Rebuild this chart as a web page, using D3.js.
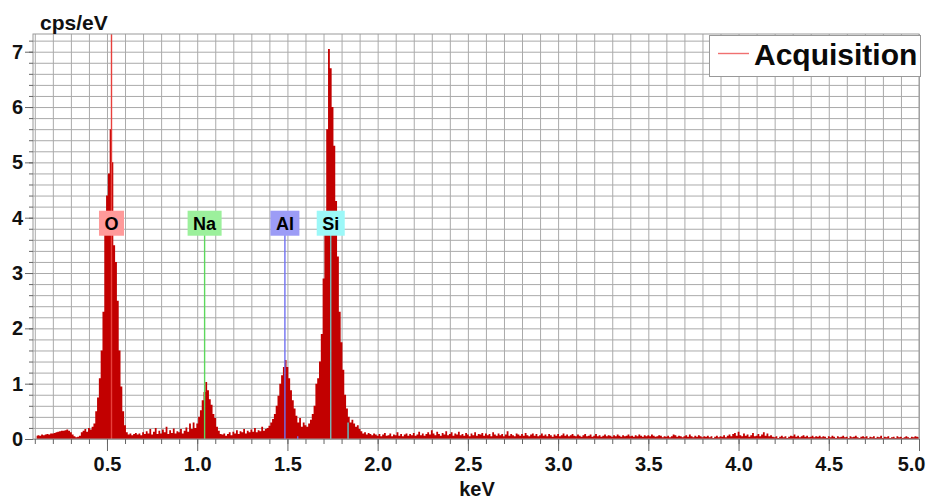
<!DOCTYPE html>
<html>
<head>
<meta charset="utf-8">
<script src="https://cdn.jsdelivr.net/npm/d3@7"></script>
<style>
  body { margin: 0; background: #fff; }
  svg { display: block; font-family: "Liberation Sans", Arial, sans-serif; font-weight: bold; }
</style>
</head>
<body>
<svg id="chart" width="926" height="500"></svg>
<script>
// EDS spectrum, one value per 10 eV channel
const channelStart = 0.11
const channelWidth = 0.01
const cpsPerEV = [
  /* 0.11 */ 0.06, 0.07, 0.06, 0.08, 0.07, 0.08, 0.09, 0.08, 0.10,
  /* 0.20 */ 0.10, 0.11, 0.12, 0.13, 0.14, 0.15, 0.15, 0.16, 0.17, 0.15,
  /* 0.30 */ 0.12, 0.08, 0.05, 0.03, 0.04, 0.06, 0.12, 0.15, 0.18, 0.13,
  /* 0.40 */ 0.20, 0.17, 0.22, 0.28, 0.50, 0.75, 1.10, 1.60, 2.30, 3.70,
  /* 0.50 */ 4.40, 4.80, 5.60, 5.00, 3.50, 3.20, 2.50, 1.60, 0.95, 0.50,
  /* 0.60 */ 0.25, 0.12, 0.08, 0.10, 0.07, 0.09, 0.11, 0.08, 0.10, 0.07,
  /* 0.70 */ 0.12, 0.09, 0.14, 0.10, 0.18, 0.08, 0.13, 0.20, 0.09, 0.15,
  /* 0.80 */ 0.10, 0.17, 0.12, 0.22, 0.09, 0.16, 0.11, 0.19, 0.10, 0.14,
  /* 0.90 */ 0.12, 0.18, 0.10, 0.15, 0.21, 0.13, 0.28, 0.18, 0.30, 0.20,
  /* 1.00 */ 0.28, 0.40, 0.52, 0.70, 0.85, 1.03, 0.88, 0.72, 0.62, 0.45,
  /* 1.10 */ 0.38, 0.22, 0.15, 0.09, 0.08, 0.10, 0.06, 0.09, 0.12, 0.07,
  /* 1.20 */ 0.13, 0.10, 0.16, 0.09, 0.14, 0.12, 0.18, 0.10, 0.15, 0.12,
  /* 1.30 */ 0.17, 0.13, 0.20, 0.12, 0.16, 0.14, 0.22, 0.15, 0.18, 0.20,
  /* 1.40 */ 0.24, 0.30, 0.36, 0.45, 0.60, 0.78, 1.00, 1.15, 1.30, 1.43,
  /* 1.50 */ 1.30, 1.10, 0.88, 0.70, 0.55, 0.42, 0.30, 0.38, 0.22, 0.30,
  /* 1.60 */ 0.25, 0.22, 0.28, 0.35, 0.45, 0.60, 1.00, 1.10, 1.40, 1.90,
  /* 1.70 */ 2.90, 4.10, 5.60, 7.05, 6.70, 6.00, 5.30, 4.30, 3.30, 2.30,
  /* 1.80 */ 1.75, 1.25, 0.80, 0.55, 0.40, 0.30, 0.35, 0.28, 0.22, 0.25,
  /* 1.90 */ 0.18, 0.14, 0.10, 0.12, 0.08, 0.11, 0.09, 0.07, 0.10, 0.08,
  /* 2.00 */ 0.06, 0.09, 0.05, 0.08, 0.11, 0.06, 0.07, 0.10, 0.05, 0.08,
  /* 2.10 */ 0.07, 0.12, 0.06, 0.09, 0.05, 0.08, 0.10, 0.06, 0.09, 0.07,
  /* 2.20 */ 0.11, 0.06, 0.08, 0.13, 0.07, 0.10, 0.06, 0.09, 0.12, 0.08,
  /* 2.30 */ 0.16, 0.10, 0.07, 0.13, 0.09, 0.06, 0.11, 0.08, 0.14, 0.07,
  /* 2.40 */ 0.09, 0.12, 0.06, 0.10, 0.08, 0.13, 0.07, 0.09, 0.06, 0.11,
  /* 2.50 */ 0.08, 0.05, 0.10, 0.07, 0.12, 0.06, 0.09, 0.08, 0.11, 0.06,
  /* 2.60 */ 0.10, 0.07, 0.09, 0.05, 0.12, 0.08, 0.06, 0.10, 0.07, 0.09,
  /* 2.70 */ 0.05, 0.08, 0.14, 0.06, 0.09, 0.07, 0.05, 0.10, 0.08, 0.06,
  /* 2.80 */ 0.09, 0.06, 0.11, 0.07, 0.05, 0.08, 0.10, 0.06, 0.09, 0.05,
  /* 2.90 */ 0.07, 0.10, 0.06, 0.08, 0.05, 0.09, 0.07, 0.04, 0.08, 0.06,
  /* 3.00 */ 0.09, 0.05, 0.07, 0.10, 0.06, 0.08, 0.05, 0.07, 0.09, 0.06,
  /* 3.10 */ 0.05, 0.08, 0.06, 0.04, 0.07, 0.09, 0.05, 0.06, 0.08, 0.04,
  /* 3.20 */ 0.06, 0.09, 0.05, 0.07, 0.04, 0.06, 0.08, 0.05, 0.07, 0.06,
  /* 3.30 */ 0.04, 0.07, 0.05, 0.08, 0.06, 0.04, 0.07, 0.05, 0.06, 0.08,
  /* 3.40 */ 0.05, 0.06, 0.04, 0.07, 0.05, 0.08, 0.06, 0.04, 0.07, 0.05,
  /* 3.50 */ 0.07, 0.05, 0.08, 0.06, 0.04, 0.05, 0.07, 0.06, 0.03, 0.05,
  /* 3.60 */ 0.04, 0.06, 0.03, 0.05, 0.08, 0.07, 0.04, 0.06, 0.05, 0.03,
  /* 3.70 */ 0.05, 0.07, 0.04, 0.08, 0.05, 0.03, 0.06, 0.04, 0.07, 0.05,
  /* 3.80 */ 0.03, 0.05, 0.04, 0.06, 0.03, 0.05, 0.02, 0.04, 0.06, 0.03,
  /* 3.90 */ 0.05, 0.04, 0.07, 0.03, 0.06, 0.08, 0.05, 0.09, 0.11, 0.06,
  /* 4.00 */ 0.13, 0.07, 0.05, 0.10, 0.06, 0.08, 0.04, 0.07, 0.11, 0.05,
  /* 4.10 */ 0.06, 0.09, 0.05, 0.08, 0.12, 0.06, 0.10, 0.05, 0.07, 0.04,
  /* 4.20 */ 0.03, 0.05, 0.02, 0.04, 0.06, 0.03, 0.05, 0.02, 0.04, 0.06,
  /* 4.30 */ 0.05, 0.08, 0.04, 0.06, 0.03, 0.05, 0.07, 0.04, 0.06, 0.03,
  /* 4.40 */ 0.04, 0.06, 0.03, 0.05, 0.04, 0.06, 0.03, 0.05, 0.04, 0.02,
  /* 4.50 */ 0.05, 0.03, 0.06, 0.04, 0.02, 0.05, 0.03, 0.04, 0.06, 0.03,
  /* 4.60 */ 0.04, 0.02, 0.05, 0.03, 0.04, 0.06, 0.03, 0.02, 0.04, 0.05,
  /* 4.70 */ 0.03, 0.05, 0.02, 0.04, 0.03, 0.05, 0.02, 0.04, 0.03, 0.06,
  /* 4.80 */ 0.02, 0.04, 0.03, 0.05, 0.02, 0.03, 0.04, 0.02, 0.05, 0.03,
  /* 4.90 */ 0.04, 0.02, 0.03, 0.05, 0.03, 0.02, 0.04, 0.03, 0.05, 0.04,
  /* 5.00 */ 0.03
]

// element markers (K-alpha lines)
const elements = ['O', 'Na', 'Al', 'Si']
const elementKeV = [0.525, 1.041, 1.486, 1.740]
const boxColors = ['#ff9a9a', '#9cf09c', '#9c9cf6', '#9cf8f8']
const lineColors = ['#e8403c', '#5cd85c', '#7070f0', '#7ab8b8']
const labelLevel = 3.9

// small K-beta ticks near the base
const betaKeV = [1.557, 1.836]
const betaHeight = [0.05, 0.3]
const betaColors = ['#6a6af0', '#5cc8c8']

const xTickLabels = ['0.5', '1.0', '1.5', '2.0', '2.5', '3.0', '3.5', '4.0', '4.5', '5.0']
const yTickLabels = ['0', '1', '2', '3', '4', '5', '6', '7']
const seriesName = 'Acquisition'

const svg = d3.select('#chart')
const plotLeft = 33, plotRight = 919, plotTop = 34, plotBottom = 439

const x = d3.scaleLinear().domain([0.09, 5.0]).range([plotLeft, plotRight])
const y = d3.scaleLinear().domain([0, 7.32]).range([plotBottom, plotTop])

const xMinor = d3.range(1, 51).map((i) => i / 10)
const yMinor = d3.range(0, 37).map((i) => i / 5)

// grid
const gridX = svg.append('g')
  .attr('transform', `translate(0,${plotBottom})`)
  .call(d3.axisBottom(x).tickValues(xMinor).tickSize(-(plotBottom - plotTop)).tickFormat(''))
gridX.select('.domain').remove()
gridX.selectAll('line').attr('stroke', '#aaaaaa')

const gridY = svg.append('g')
  .attr('transform', `translate(${plotLeft},0)`)
  .call(d3.axisLeft(y).tickValues(yMinor).tickSize(-(plotRight - plotLeft)).tickFormat(''))
gridY.select('.domain').remove()
gridY.selectAll('line').attr('stroke', '#aaaaaa')

// spectrum
svg.append('clipPath').attr('id', 'plot-clip')
  .append('rect').attr('x', plotLeft).attr('y', plotTop)
  .attr('width', plotRight - plotLeft).attr('height', plotBottom - plotTop)

const channels = cpsPerEV.map((v, i) => ({ keV: channelStart + i * channelWidth, v: v }))
const area = d3.area()
  .x((d) => x(d.keV))
  .y0(y(0))
  .y1((d) => y(d.v))
  .curve(d3.curveStep)

svg.append('path')
  .datum(channels)
  .attr('clip-path', 'url(#plot-clip)')
  .attr('fill', '#c20000')
  .attr('d', area)

// marker lines, drawn over the spectrum
const markers = svg.append('g').attr('class', 'markers')
elements.forEach((el, i) => {
  const lx = x(elementKeV[i])
  markers.append('line')
    .attr('x1', lx).attr('x2', lx)
    .attr('y1', i == 0 ? plotTop : y(labelLevel))
    .attr('y2', plotBottom)
    .style('stroke', lineColors[i])
    .style('stroke-width', 1.4)
})

betaKeV.forEach((k, i) => {
  const lx = x(k)
  markers.append('line')
    .attr('x1', lx).attr('x2', lx)
    .attr('y1', y(betaHeight[i])).attr('y2', plotBottom)
    .style('stroke', betaColors[i])
    .style('stroke-width', 1.4)
})

// marker labels
elements.forEach((el, i) => {
  const cx = x(elementKeV[i])
  const cy = y(labelLevel)
  const t = svg.append('text')
    .attr('x', cx).attr('y', cy)
    .attr('dy', '0.36em')
    .attr('text-anchor', 'middle')
    .attr('font-size', 18)
    .attr('fill', '#000')
    .text(el)
  const w = t.node().getComputedTextLength() + 11
  svg.insert('rect', () => t.node())
    .attr('x', cx - w / 2).attr('y', cy - 12.5)
    .attr('width', w).attr('height', 25)
    .attr('fill', boxColors[i])
})

// frame
svg.append('rect')
  .attr('x', plotLeft).attr('y', plotTop)
  .attr('width', plotRight - plotLeft).attr('height', plotBottom - plotTop)
  .attr('fill', 'none').attr('stroke', '#9a9a9a')

// axes: minor ticks then labelled major ticks
const xMinorAxis = svg.append('g')
  .attr('transform', `translate(0,${plotBottom})`)
  .call(d3.axisBottom(x).tickValues(xMinor).tickSize(5).tickFormat(''))
const xAxis = svg.append('g')
  .attr('transform', `translate(0,${plotBottom})`)
  .call(d3.axisBottom(x).tickValues(xTickLabels.map(Number)).tickSize(12).tickPadding(6)
    .tickFormat((d, i) => xTickLabels[i]))
const yMinorAxis = svg.append('g')
  .attr('transform', `translate(${plotLeft},0)`)
  .call(d3.axisLeft(y).tickValues(yMinor).tickSize(4).tickFormat(''))
const yAxis = svg.append('g')
  .attr('transform', `translate(${plotLeft},0)`)
  .call(d3.axisLeft(y).tickValues(yTickLabels.map(Number)).tickSize(8).tickPadding(2)
    .tickFormat((d, i) => yTickLabels[i]))

;[xMinorAxis, xAxis, yMinorAxis, yAxis].forEach((g) => {
  g.select('.domain').remove()
  g.selectAll('line').attr('stroke', '#666')
  g.attr('font-family', null).attr('font-size', 20)
  g.selectAll('text').attr('fill', '#111')
})

// last x label is pushed inside the window
xAxis.selectAll('.tick text').filter((d, i) => i == xTickLabels.length - 1)
  .attr('text-anchor', 'end').attr('x', 6)

// axis titles
svg.append('text')
  .attr('x', 40).attr('y', 30)
  .attr('font-size', 21)
  .attr('fill', '#111')
  .text('cps/eV')

svg.append('text')
  .attr('x', 477).attr('y', 496)
  .attr('text-anchor', 'middle')
  .attr('font-size', 20)
  .attr('fill', '#111')
  .text('keV')

// legend
const legend = svg.append('g')
legend.append('rect')
  .attr('x', 709.5).attr('y', 35.5)
  .attr('width', 211).attr('height', 41)
  .attr('fill', '#fff').attr('stroke', '#999')
legend.append('line')
  .attr('x1', 718).attr('x2', 749)
  .attr('y1', 53.5).attr('y2', 53.5)
  .style('stroke', '#f07070')
  .style('stroke-width', 1.4)
legend.append('text')
  .attr('x', 754).attr('y', 65)
  .attr('font-size', 30)
  .attr('fill', '#0a0a0a')
  .text(seriesName)
</script>
</body>
</html>
